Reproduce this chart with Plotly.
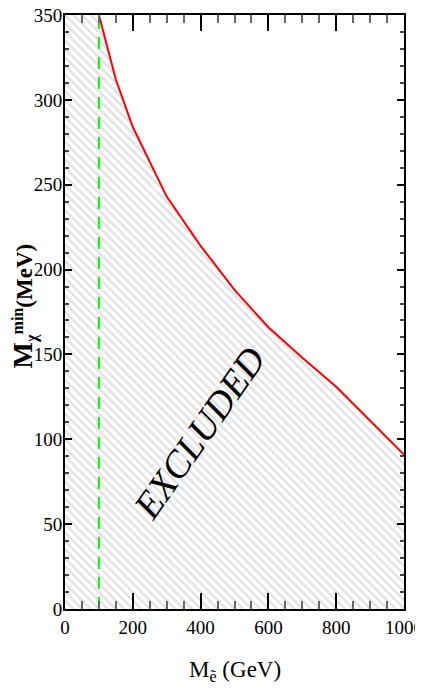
import plotly.graph_objects as go

# selectron mass (GeV) and lower bound on the dark-matter mass (MeV)
m_selectron = [100, 150, 200, 300, 400, 500, 600, 700, 800, 900, 1000]
m_chi_min = [350, 312, 284, 243, 214, 188, 166, 148, 131, 111, 91]

# LEP bound on the selectron mass
lep_bound = [100, 100]
lep_y = [0, 350]

x_range = [0, 1000]
y_range = [0, 350]

FONT = "Liberation Serif"

fig = go.Figure()

# hatched excluded region (from the left edge of the plot, under the curve)
fig.add_trace(go.Scatter(
    x=[x_range[0]] + m_selectron,
    y=[m_chi_min[0]] + m_chi_min,
    mode="lines",
    line=dict(width=0, color="rgba(0,0,0,0)"),
    fill="tozeroy",
    fillcolor="rgba(255,255,255,0)",
    fillpattern=dict(shape="\\", fgcolor="#c4c4c4", bgcolor="white",
                     size=6, solidity=0.4),
    hoverinfo="skip",
    showlegend=False,
))

fig.add_trace(go.Scatter(
    x=m_selectron, y=m_chi_min,
    mode="lines",
    line=dict(color="#ff0000", width=2),
    showlegend=False,
))

fig.add_trace(go.Scatter(
    x=lep_bound, y=lep_y,
    mode="lines",
    line=dict(color="#00ff00", width=2, dash="12px,8px"),
    showlegend=False,
))

fig.add_annotation(
    x=395, y=104, xref="x", yref="y",
    text="<i>EXCLUDED</i>",
    showarrow=False, textangle=-55,
    font=dict(family=FONT, size=38, color="black"),
)

# axis titles placed as annotations for exact placement
fig.add_annotation(
    x=0.5, y=-0.077, xref="paper", yref="paper",
    xanchor="center", yanchor="top",
    text="M<sub>ẽ</sub> (GeV)",
    showarrow=False,
    font=dict(family=FONT, size=23, color="black"),
)
fig.add_annotation(
    x=-0.12, y=0.51, xref="paper", yref="paper",
    xanchor="center", yanchor="middle",
    textangle=-90,
    text=("<b><span style='font-size:28px'>M</span><sub>χ</sub>"
          "<sup>min</sup>(MeV)</b>"),
    showarrow=False,
    font=dict(family=FONT, size=23, color="black"),
)

axis_common = dict(
    showgrid=False, zeroline=False, automargin=False,
    showline=True, linecolor="black", linewidth=2, mirror="ticks",
    ticks="inside", tickwidth=1.5, tickcolor="black",
    tickfont=dict(family=FONT, size=19, color="black"),
    ticklabeloverflow="allow",
)

fig.update_xaxes(
    range=x_range, dtick=200, ticklen=16,
    minor=dict(ticks="inside", ticklen=8, dtick=50, tickcolor="#666"),
    **axis_common,
)
fig.update_yaxes(
    range=y_range, dtick=50, ticklen=7, ticklabelstandoff=-3,
    minor=dict(ticks="inside", ticklen=4, dtick=10, tickcolor="#444"),
    **axis_common,
)

# the page body adds an 8px margin, so the figure is sized to fit inside it
fig.update_layout(
    width=415, height=685,
    margin=dict(l=57, r=19, t=7, b=84),
    plot_bgcolor="white",
    paper_bgcolor="white",
)

fig.write_html("out.html")
